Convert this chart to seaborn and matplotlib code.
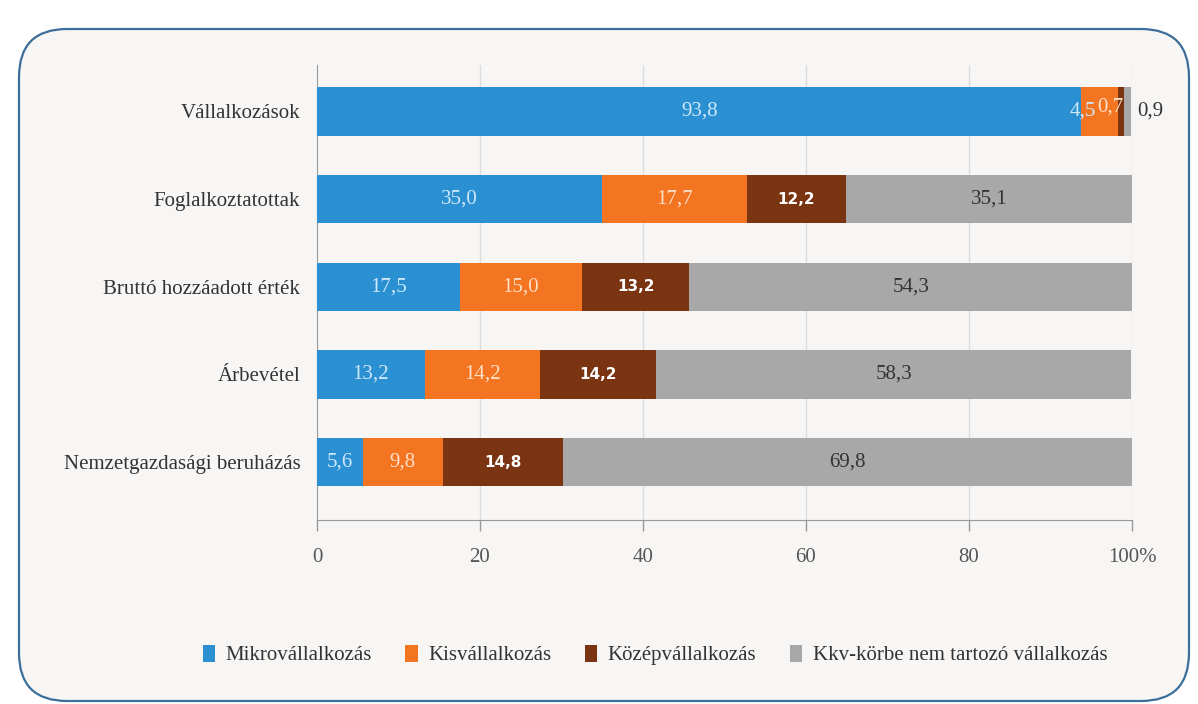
import numpy as np
import pandas as pd
import matplotlib
matplotlib.use("Agg")
import matplotlib.pyplot as plt
import seaborn as sns
from matplotlib.patches import FancyBboxPatch, Patch

categories = ["Vállalkozások", "Foglalkoztatottak", "Bruttó hozzáadott érték",
              "Árbevétel", "Nemzetgazdasági beruházás"]
series_names = ["Mikrovállalkozás", "Kisvállalkozás", "Középvállalkozás",
                "Kkv-körbe nem tartozó vállalkozás"]
mikro = [93.8, 35.0, 17.5, 13.2, 5.6]
kis = [4.5, 17.7, 15.0, 14.2, 9.8]
kozep = [0.7, 12.2, 13.2, 14.2, 14.8]
nagy = [0.9, 35.1, 54.3, 58.3, 69.8]
xticks = [0, 20, 40, 60, 80, 100]
xticklabels = ["0", "20", "40", "60", "80", "100%"]

colors = ["#2a90d2", "#f37421", "#7b3412", "#a8a8a8"]
bg = "#f8f6f4"

sns.set_style("white")
plt.rcParams["font.family"] = ["Liberation Serif", "DejaVu Serif"]

W, H = 1198, 704
fig = plt.figure(figsize=(11.98, 7.04), dpi=100, facecolor="white")

# background rounded frame (pixel coordinates)
bax = fig.add_axes([0, 0, 1, 1], zorder=-5)
bax.set_xlim(0, W)
bax.set_ylim(H, 0)
bax.axis("off")
box = FancyBboxPatch((19, 29), 1170, 672,
                     boxstyle="round,pad=0,rounding_size=48",
                     facecolor=bg, edgecolor="#3b6e9a", linewidth=1.6)
bax.add_patch(box)

ax = fig.add_axes([317 / W, 1 - 520 / H, (1132 - 317) / W, (520 - 65) / H])
ax.set_facecolor(bg)

series = [mikro, kis, kozep, nagy]
cum = np.cumsum(np.array(series), axis=0)
for i in range(3, -1, -1):
    df = pd.DataFrame({"cat": categories, "val": cum[i]})
    sns.barplot(data=df, y="cat", x="val", orient="h", color=colors[i],
                width=0.55, saturation=1, ax=ax, zorder=3, linewidth=0)

ax.set_xlim(0, 100)
ax.set_ylim(4.66, -0.53)
ax.set_xticks(xticks)
ax.set_xticklabels(xticklabels, fontsize=15, color="#555555")
ax.set_xlabel("")
ax.set_ylabel("")
ax.tick_params(axis="y", length=0, labelsize=15, labelcolor="#333333", pad=12)
ax.tick_params(axis="x", bottom=True, length=8, width=1, color="#999999",
               pad=12, direction="out")
for s in ["top", "right"]:
    ax.spines[s].set_visible(False)
ax.spines["left"].set_color("#999999")
ax.spines["bottom"].set_color("#999999")
for x in [20, 40, 60, 80, 100]:
    ax.axvline(x, color="#dddddd", linewidth=1, zorder=1)

# labels
label_cols = ["#cfe8fa", "#fde0c8", "white", "#333333"]
starts = np.vstack([np.zeros(5), cum[:-1]])
for r in range(5):
    for i in range(4):
        v = series[i][r]
        c = starts[i][r] + v / 2
        txt = f"{v:.1f}".replace(".", ",")
        kw = dict(va="center", ha="center", fontsize=15, color=label_cols[i], zorder=5)
        if i == 2:
            kw.update(fontsize=11, fontweight="bold", family="DejaVu Sans")
        if r == 0:
            if i == 0:
                ax.text(c, r, txt, **kw)
            elif i == 1:
                ax.text(starts[1][r] + 0.2, r, txt, va="center", ha="center",
                        fontsize=15, color=label_cols[0], zorder=5)
            elif i == 2:
                ax.text(starts[1][r] + 3.5, r - 0.05, txt, va="center", ha="center",
                        fontsize=15, color=label_cols[1], zorder=5)
            else:
                ax.text(100.6, r, txt, va="center", ha="left", fontsize=15,
                        color="#333333", zorder=5)
            continue
        ax.text(c, r, txt, **kw)

handles = [Patch(facecolor=c, edgecolor="none") for c in colors]
fig.legend(handles, series_names, loc="center", bbox_to_anchor=(655 / W, 1 - 655 / H),
           ncol=4, frameon=False, fontsize=15, handlelength=0.6, handleheight=0.9,
           handletextpad=0.5, columnspacing=1.6, labelcolor="#333333")

fig.savefig("out.png", dpi=100, facecolor="white")
